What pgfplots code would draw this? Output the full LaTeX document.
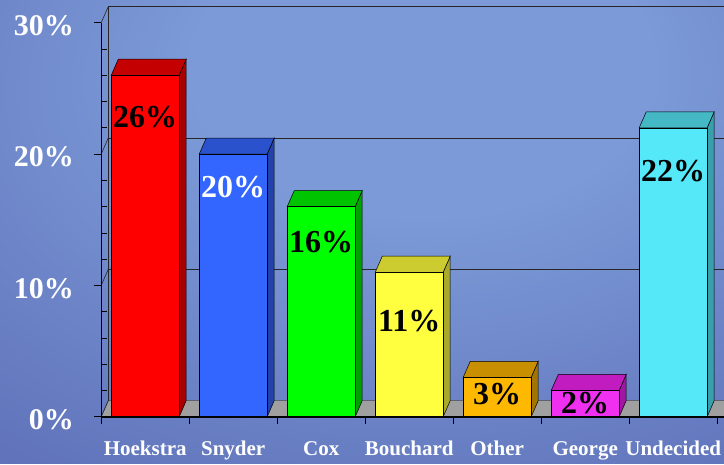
\documentclass[border=0pt]{standalone}
\usepackage{pgfplots}
\pgfplotsset{compat=1.18}
\usepackage{fontspec}
\setmainfont{Liberation Serif}
\definecolor{bgL}{RGB}{124,154,215}
\definecolor{bgD}{RGB}{80,92,170}
\definecolor{redF}{HTML}{FF0000}\definecolor{redT}{HTML}{C40000}\definecolor{redS}{HTML}{A80000}
\definecolor{bluF}{HTML}{3366FF}\definecolor{bluT}{HTML}{2A52CC}\definecolor{bluS}{HTML}{2244AA}
\definecolor{grnF}{HTML}{00FF00}\definecolor{grnT}{HTML}{00C400}\definecolor{grnS}{HTML}{00A000}
\definecolor{yelF}{HTML}{FFFF40}\definecolor{yelT}{HTML}{CCCC30}\definecolor{yelS}{HTML}{A9A92A}
\definecolor{orgF}{HTML}{FFB800}\definecolor{orgT}{HTML}{C89000}\definecolor{orgS}{HTML}{A37400}
\definecolor{magF}{HTML}{F030F0}\definecolor{magT}{HTML}{C01CC0}\definecolor{magS}{HTML}{A018A0}
\definecolor{cyaF}{HTML}{55E8F8}\definecolor{cyaT}{HTML}{44B8C4}\definecolor{cyaS}{HTML}{38A0AC}
\definecolor{floorG}{HTML}{A0A0A0}
\pgfdeclareradialshading{bgshade}{\pgfpoint{5bp}{21bp}}{color(0bp)=(bgL); color(16bp)=(bgL); color(62bp)=(bgD); color(100bp)=(bgD)}
% 3D bar: #1 category index, #2 value, #3 front, #4 top, #5 side
\newcommand{\tdbar}[5]{%
  \pgfmathsetmacro{\xa}{#1-0.386}%
  \pgfmathsetmacro{\xb}{#1+0.386}%
  \pgfmathsetmacro{\xc}{#1-0.386+0.08}%
  \pgfmathsetmacro{\xd}{#1+0.386+0.08}%
  \pgfmathsetmacro{\yt}{#2+1.22}%
  \addplot[fill=#5, draw=black, line width=0.5pt] coordinates {(\xb,0) (\xd,1.22) (\xd,\yt) (\xb,#2)} -- cycle;
  \addplot[fill=#4, draw=black, line width=0.5pt] coordinates {(\xa,#2) (\xb,#2) (\xd,\yt) (\xc,\yt)} -- cycle;
  \addplot[fill=#3, draw=black, line width=0.5pt] coordinates {(\xa,0) (\xb,0) (\xb,#2) (\xa,#2)} -- cycle;
}
\begin{document}
\begin{tikzpicture}[x=1pt,y=1pt]
\fill[bgD] (0,0) rectangle (724,464);
\shade[shading=bgshade] (0,0) rectangle (724,464);
\begin{axis}[
  scale only axis, width=624.8pt, height=394pt,
  at={(115,36)}, anchor=south west,
  xmin=-0.5, xmax=6.6, ymin=0, ymax=30,
  clip=false, axis on top=true,
  axis x line*=bottom, axis y line*=left,
  x axis line style={line width=1.6pt, black},
  y axis line style={line width=0.6pt, black},
  tick style={black, line width=0.6pt},
  major tick length=7pt, tick align=outside,
  xtick={-0.5,0.5,...,6.5}, xticklabels={},
  extra x ticks={0,1,2,3,4,5,6},
  extra x tick labels={Hoekstra,Snyder,Cox,Bouchard,Other,George,Undecided},
  extra x tick style={major tick length=0pt,
    xticklabel style={font=\fontsize{21}{21}\selectfont\bfseries, text=white, anchor=base, yshift=-39pt}},
  ytick={0,10,20,30}, yticklabels={0\%,10\%,20\%,30\%},
  yticklabel style={font=\fontsize{30}{30}\selectfont\bfseries, text=white, inner sep=0pt, xshift=-20pt, yshift=-3pt},
  extra y ticks={2,4,6,8,12,14,16,18,22,24,26,28},
  extra y tick labels={},
  extra y tick style={tick align=inside, major tick length=6pt},
]
% floor
\addplot[fill=floorG, draw=black!70, line width=0.5pt] coordinates {(-0.5,0) (6.6,0) (6.68,1.22) (-0.42,1.22)} -- cycle;
% back wall and left wall lines
\addplot[draw=black!85, line width=0.6pt] coordinates {(-0.42,1.22) (-0.42,31.22) (6.6,31.22)};
\addplot[draw=black!85, line width=1.4pt] coordinates {(-0.42,31.22) (6.6,31.22)};
\addplot[draw=black!85, line width=0.6pt] coordinates {(-0.42,11.22) (6.6,11.22)};
\addplot[draw=black!85, line width=0.6pt] coordinates {(-0.42,21.22) (6.6,21.22)};
\addplot[draw=black!85, line width=0.6pt] coordinates {(-0.5,30) (-0.42,31.22)};
\addplot[draw=black!85, line width=0.6pt] coordinates {(-0.5,20) (-0.42,21.22)};
\addplot[draw=black!85, line width=0.6pt] coordinates {(-0.5,10) (-0.42,11.22)};
\addplot[draw=black!85, line width=0.6pt] coordinates {(-0.5,0) (-0.42,1.22)};
% bars
\tdbar{0}{26}{redF}{redT}{redS}
\tdbar{1}{20}{bluF}{bluT}{bluS}
\tdbar{2}{16}{grnF}{grnT}{grnS}
\tdbar{3}{11}{yelF}{yelT}{yelS}
\tdbar{4}{3}{orgF}{orgT}{orgS}
\tdbar{5}{2}{magF}{magT}{magS}
\tdbar{6}{22}{cyaF}{cyaT}{cyaS}
% value labels
\addplot[draw=none, nodes near coords, point meta=explicit symbolic,
  every node near coord/.style={anchor=center, inner sep=0pt, font=\fontsize{32}{32}\selectfont\bfseries, text=black}]
  coordinates {(0,22.8)[26\%] (2,13.3)[16\%] (3,7.3)[11\%] (4,1.7)[3\%] (5,1.05)[2\%] (6,18.7)[22\%]};
\addplot[draw=none, nodes near coords, point meta=explicit symbolic,
  every node near coord/.style={anchor=center, inner sep=0pt, font=\fontsize{32}{32}\selectfont\bfseries, text=white}]
  coordinates {(1,17.5)[20\%]};
\end{axis}
\pgfresetboundingbox
\useasboundingbox (0,0) rectangle (724,464);
\end{tikzpicture}
\end{document}
